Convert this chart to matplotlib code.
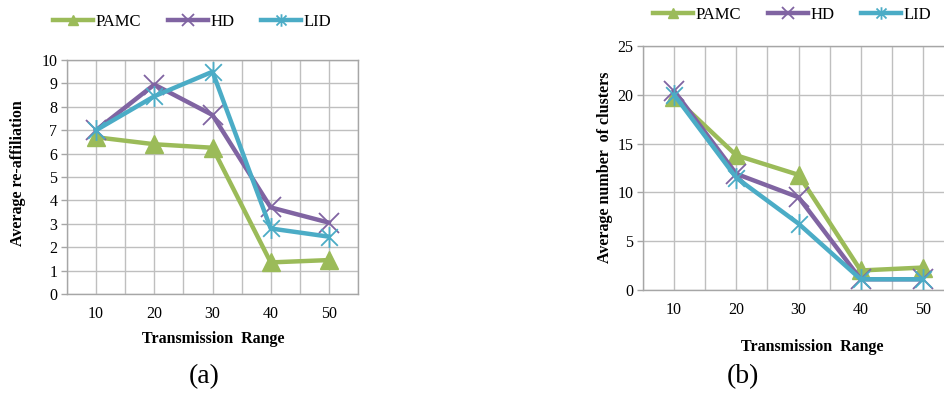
import numpy as np
import matplotlib.pyplot as plt
from matplotlib.path import Path

plt.rcParams['font.family'] = ['Liberation Serif', 'DejaVu Serif']

ranges = ['10', '20', '30', '40', '50']
series = ['PAMC', 'HD', 'LID']

# (a) average re-affiliation
pamc_a = [6.7, 6.4, 6.25, 1.35, 1.45]
hd_a = [7.0, 8.95, 7.65, 3.7, 3.05]
lid_a = [7.0, 8.45, 9.5, 2.8, 2.45]

# (b) average number of clusters
pamc_b = [19.8, 13.8, 11.8, 2.0, 2.3]
hd_b = [20.4, 11.9, 9.5, 1.1, 1.1]
lid_b = [20.0, 11.5, 6.8, 1.1, 1.1]

colors = {'PAMC': '#9BBB59', 'HD': '#8064A2', 'LID': '#4BACC6'}

# excel "star" marker: an x with a vertical bar through it
star = Path([(-1, -1), (1, 1), (-1, 1), (1, -1), (0, -1.25), (0, 1.25)],
            [Path.MOVETO, Path.LINETO, Path.MOVETO, Path.LINETO, Path.MOVETO, Path.LINETO])

W, H = 944, 393
fig = plt.figure(figsize=(W / 100, H / 100), dpi=100)

def draw(rect, data, ymax, ystep, ylabel, ylab_xy, xlab_xy, cap, cap_xy, leg_xy):
    ax = fig.add_axes(rect)
    x = np.arange(len(ranges))
    styles = {'PAMC': dict(marker='^', ms=13, mew=1),
              'HD': dict(marker='x', ms=15, mew=1.3),
              'LID': dict(marker=star, ms=15, mew=1.3)}
    handles = []
    for name, y in zip(series, data):
        st = styles[name]
        ln, = ax.plot(x, y, color=colors[name], lw=3.2, label=name,
                      marker=st['marker'], markersize=st['ms'],
                      markeredgewidth=st['mew'], markerfacecolor=colors[name],
                      markeredgecolor=colors[name], zorder=3, clip_on=False)
        handles.append(ln)
    ax.set_xlim(-0.5, len(ranges) - 0.5)
    ax.set_ylim(0, ymax)
    ax.set_yticks(np.arange(0, ymax + 0.01, ystep))
    ax.set_xticks(x)
    ax.set_xticklabels(ranges)
    for gx in np.arange(-0.5, len(ranges), 0.5):
        ax.axvline(gx, color='#BFBFBF', lw=1, zorder=0)
    ax.grid(True, which='major', axis='y', color='#BFBFBF', lw=1)
    ax.tick_params(axis='x', which='both', length=0, pad=9, labelsize=11.5)
    ax.tick_params(axis='y', length=4, width=1, color='#A6A6A6', pad=3, labelsize=11.5)
    for s in ax.spines.values():
        s.set_color('#A6A6A6')
        s.set_linewidth(1)
    ax.set_axisbelow(True)
    fig.text(ylab_xy[0] / W, 1 - ylab_xy[1] / H, ylabel, rotation=90,
             ha='center', va='center', fontsize=11.5, fontweight='bold')
    fig.text(xlab_xy[0] / W, 1 - xlab_xy[1] / H, 'Transmission  Range',
             ha='center', va='center', fontsize=11.5, fontweight='bold')
    fig.text(cap_xy[0] / W, 1 - cap_xy[1] / H, cap, ha='center', va='center', fontsize=20)
    fig.legend(handles=handles, loc='center left',
               bbox_to_anchor=(leg_xy[0] / W, 1 - leg_xy[1] / H),
               ncol=3, frameon=False, fontsize=12, handlelength=2.4, markerscale=0.6,
               handletextpad=0.15, columnspacing=1.6, borderaxespad=0, borderpad=0)
    return ax

draw([67 / W, 1 - 294 / H, 291 / W, 234 / H], [pamc_a, hd_a, lid_a], 10, 1,
     'Average re-affiliation', (18, 173), (213, 339), '(a)', (204, 377), (53, 22))
draw([643 / W, 1 - 290 / H, 311 / W, 244 / H], [pamc_b, hd_b, lid_b], 25, 5,
     'Average number  of clusters', (605, 167), (812, 347), '(b)', (743, 377), (653, 15))

fig.savefig('out.png', dpi=100)
